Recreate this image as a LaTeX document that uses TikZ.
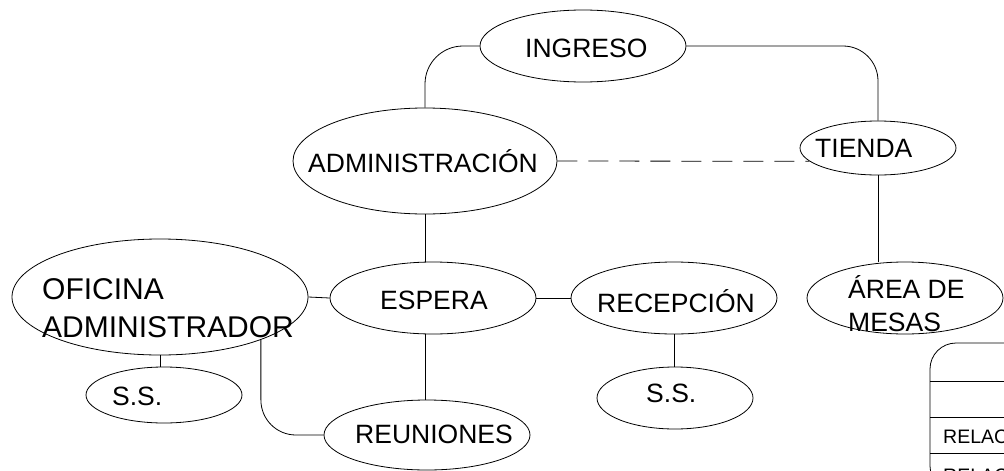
\documentclass[tikz,border=0pt]{standalone}
\usepackage{fontspec}
\setmainfont{Liberation Sans}
\usetikzlibrary{shapes.geometric}
\begin{document}
\begin{tikzpicture}[x=1pt,y=-1pt,
  ell/.style={draw,ellipse,inner sep=0pt,line width=0.8pt},
  lbl/.style={anchor=base west,inner sep=0pt,font=\fontsize{26.5}{30}\selectfont},
  biglbl/.style={anchor=base west,inner sep=0pt,font=\fontsize{30}{34}\selectfont},
  tbl/.style={anchor=base west,inner sep=0pt,font=\fontsize{19.5}{22}\selectfont},
  conn/.style={line width=0.8pt}]
\useasboundingbox (0,0) rectangle (1004,471);
\clip (0,0) rectangle (1004,471);
% ellipses
\node[ell,minimum width=206,minimum height=72] (ing) at (583,46) {};
\node[ell,minimum width=264,minimum height=106] (adm) at (425,161) {};
\node[ell,minimum width=156,minimum height=54] (tie) at (878,148) {};
\node[ell,minimum width=196,minimum height=72] (are) at (905,298) {};
\node[ell,minimum width=206,minimum height=72] (esp) at (433,298) {};
\node[ell,minimum width=206,minimum height=72] (rec) at (674,298) {};
\node[ell,minimum width=206,minimum height=70] (reu) at (427,435) {};
\node[ell,minimum width=296,minimum height=116] (ofi) at (160,297) {};
\node[ell,minimum width=156,minimum height=56] (ss1) at (164,395) {};
\node[ell,minimum width=156,minimum height=62] (ss2) at (675,398) {};
% labels
\node[lbl] (tIng) at (525,57) {INGRESO};
\node[lbl] (tAdm) at (308,172) {ADMINISTRACIÓN};
\node[lbl] (tTie) at (815,157) {TIENDA};
\node[lbl] (tEsp) at (380,309) {ESPERA};
\node[lbl] (tRec) at (597,312) {RECEPCIÓN};
\node[lbl] (tReu) at (355,443) {REUNIONES};
\node[lbl] (tSs1) at (112,405) {S.S.};
\node[lbl] (tSs2) at (646,402) {S.S.};
\node[biglbl] (tOfi1) at (42,299) {OFICINA};
\node[biglbl] (tOfi2) at (42,337) {ADMINISTRADOR};
\node[lbl] (tAre1) at (848,298) {ÁREA DE};
\node[lbl] (tAre2) at (848,331) {MESAS};
% connectors
\draw[conn,rounded corners=38] (adm.north) |- (ing.west);
\draw[conn,rounded corners=35] (ing.east) -| (tie.north);
\draw[conn,dash pattern=on 20pt off 11pt] (adm.east) -- (tie.191);
\draw[conn] (tie.south) -- (tie.south |- are.north);
\draw[conn] (adm.south) -- (adm.south |- esp.north);
\draw[conn] (adm.south |- esp.south) -- (adm.south |- reu.north);
\draw[conn] (esp.west) -- (ofi.east);
\draw[conn] (esp.east) -- (rec.west);
\draw[conn] (rec.south) -- (rec.south |- ss2.north);
\draw[conn] (ofi.south) -- (ofi.south |- ss1.north);
\draw[conn,rounded corners=35] (ofi.-23.2) |- (reu.west);
% legend table (partially visible)
\coordinate (tblTL) at (930,343);
\coordinate (tblBR) at (1060,492);
\draw[conn,rounded corners=26] (tblTL) rectangle (tblBR);
\coordinate (r1) at (930,381);
\coordinate (r2) at (930,417);
\coordinate (r3) at (930,453);
\draw[conn] (r1) -- +(100,0);
\draw[conn] (r2) -- +(100,0);
\draw[conn] (r3) -- +(100,0);
\node[tbl] (tRel1) at (943,443) {RELACIÓN};
\node[tbl] (tRel2) at (943,482) {RELACIÓN};
\end{tikzpicture}
\end{document}
